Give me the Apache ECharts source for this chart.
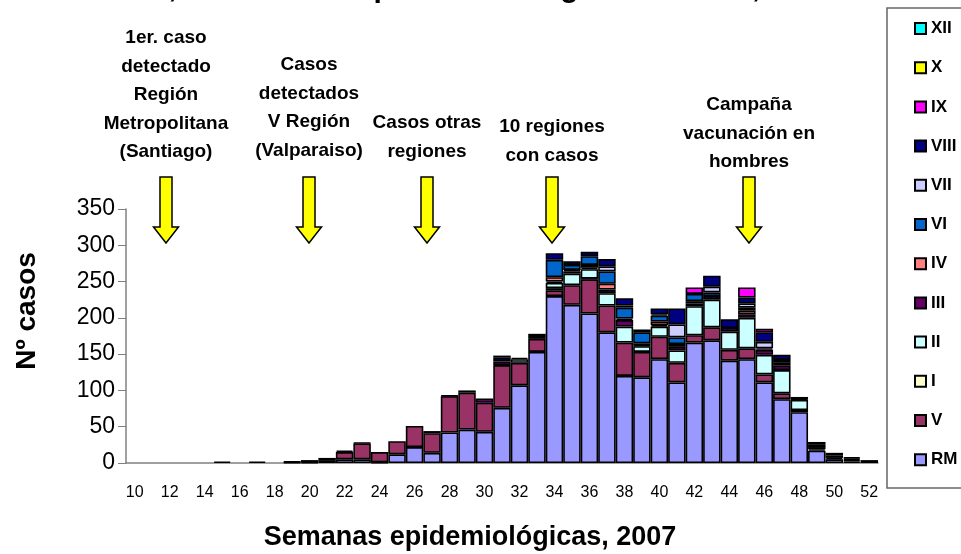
<html>
<head>
<meta http-equiv="Content-Type" content="text/html; charset=UTF-8">
<title>Parotiditis 2007</title>
<script type="text/javascript" src="https://cdn.jsdelivr.net/npm/echarts/dist/echarts.min.js"></script>
<style>
	html, body { margin: 0; padding: 0; background: #ffffff; }
	#chart { width: 961px; height: 554px; }
</style>
</head>
<body>
	<div id="chart"></div>
	<script type="text/javascript">
		var fontName = 'Liberation Sans, Arial, sans-serif';

		// semanas epidemiológicas 10..52
		var weeks = ['10','11','12','13','14','15','16','17','18','19',
			'20','21','22','23','24','25','26','27','28','29',
			'30','31','32','33','34','35','36','37','38','39',
			'40','41','42','43','44','45','46','47','48','49',
			'50','51','52'];

		// casos por región (orden de apilado, de abajo hacia arriba)
		var casosRM = [0,0,0,0,0,2,0,2,0,1,
			1,4,5,5,1,12,22,14,42,46,
			43,76,107,153,230,218,206,180,120,118,
			143,111,166,169,141,143,111,88,70,17,
			5,2,4];
		var casosV = [0,0,0,0,0,0,0,0,0,1,
			3,3,10,22,14,18,29,27,50,51,
			40,59,31,18,8,27,47,37,46,35,
			31,27,10,18,15,15,11,8,3,2,
			2,2,0];
		var casosI = [0,0,0,0,0,0,0,0,0,0,
			0,0,0,0,0,0,0,0,0,0,
			0,0,0,0,3,0,1,0,0,0,
			0,0,0,0,0,0,0,0,0,0,
			0,0,0];
		var casosII = [0,0,0,0,0,0,0,0,0,0,
			0,0,0,0,0,0,0,0,0,0,
			0,0,5,0,7,16,13,17,22,8,
			14,17,40,38,25,42,27,32,14,3,
			3,0,0];
		var casosIII = [0,0,0,0,0,0,0,0,0,0,
			0,0,2,1,0,0,0,3,1,3,
			6,5,2,4,2,3,2,5,9,1,
			2,5,4,5,5,5,7,6,1,3,
			0,2,0];
		var casosIV = [0,0,0,0,0,0,0,0,0,0,
			0,0,0,0,0,0,0,0,0,0,
			0,0,0,0,6,2,4,8,2,3,
			5,4,3,0,0,5,2,4,0,0,
			0,0,0];
		var casosVI = [0,0,0,0,0,0,0,0,0,0,
			0,0,0,0,0,0,0,0,0,0,
			0,0,0,0,24,7,12,17,15,15,
			8,9,10,5,0,4,0,0,0,0,
			0,0,0];
		var casosVII = [0,0,0,0,0,0,0,0,0,0,
			0,0,0,0,0,0,0,0,0,0,
			0,0,0,0,0,0,0,7,3,0,
			2,18,0,8,0,6,9,4,0,0,
			0,0,0];
		var casosVIII = [0,0,0,0,0,0,0,0,0,0,
			0,0,0,0,0,0,0,0,0,0,
			0,5,0,3,9,5,6,10,10,4,
			8,22,0,15,12,8,13,7,3,4,
			4,2,0];
		var casosIX = [0,0,0,0,0,0,0,0,0,0,
			0,0,0,0,0,0,0,0,0,0,
			0,3,0,0,0,0,0,0,0,0,
			0,0,9,0,0,14,5,0,0,0,
			0,0,0];
		var casosX = [0,0,0,0,0,0,0,0,0,0,
			0,0,0,0,0,0,0,0,0,0,
			0,0,0,0,0,0,0,0,0,0,
			0,0,0,0,0,0,0,0,0,0,
			0,0,0];
		var casosXII = [0,0,0,0,0,0,0,0,0,0,
			0,0,0,0,0,0,0,0,0,0,
			0,0,0,0,0,0,0,0,0,0,
			0,0,0,0,0,0,0,0,0,0,
			0,0,0];

		var yTicks = [0, 50, 100, 150, 200, 250, 300, 350];

		var regiones = [
			{name: 'RM',   data: casosRM,   color: '#9999FF'},
			{name: 'V',    data: casosV,    color: '#993366'},
			{name: 'I',    data: casosI,    color: '#FFFFCC'},
			{name: 'II',   data: casosII,   color: '#CCFFFF'},
			{name: 'III',  data: casosIII,  color: '#660066'},
			{name: 'IV',   data: casosIV,   color: '#FF8080'},
			{name: 'VI',   data: casosVI,   color: '#0066CC'},
			{name: 'VII',  data: casosVII,  color: '#CCCCFF'},
			{name: 'VIII', data: casosVIII, color: '#000080'},
			{name: 'IX',   data: casosIX,   color: '#FF00FF'},
			{name: 'X',    data: casosX,    color: '#FFFF00'},
			{name: 'XII',  data: casosXII,  color: '#00FFFF'}
		];

		// textos de eventos sobre el gráfico
		var eventos = [
			{x: 166, top: 24,  text: '1er. caso\ndetectado\nRegión\nMetropolitana\n(Santiago)'},
			{x: 309, top: 51,  text: 'Casos\ndetectados\nV Región\n(Valparaiso)'},
			{x: 427, top: 109, text: 'Casos otras\nregiones'},
			{x: 552, top: 113, text: '10 regiones\ncon casos'},
			{x: 749, top: 91,  text: 'Campaña\nvacunación en\nhombres'}
		];

		function arrowShape(cx){
			var top = 177, neck = 227, tip = 243;
			return [[cx - 6, top], [cx + 6, top], [cx + 6, neck], [cx + 12.5, neck],
				[cx, tip], [cx - 12.5, neck], [cx - 6, neck]];
		}

		function buildGraphic(){
			var items = [];
			// titulo (queda cortado en el borde superior)
			items.push({
				type: 'text', x: 20, y: 4, silent: true,
				style: {text: 'Chile 2007, los casos de parotiditis según semanas, total',
					font: 'bold 30px ' + fontName, fill: '#000', verticalAlign: 'bottom'}
			});
			for(var i = 0;i < eventos.length;i++){
				items.push({
					type: 'text', x: eventos[i].x, y: eventos[i].top, silent: true,
					style: {text: eventos[i].text, font: 'bold 19px ' + fontName,
						fill: '#000', align: 'center', verticalAlign: 'top', lineHeight: 28.5}
				});
				items.push({
					type: 'polygon', silent: true,
					shape: {points: arrowShape(eventos[i].x)},
					style: {fill: '#FFFF00', stroke: '#000', lineWidth: 1.5}
				});
			}
			// nombres de ejes
			items.push({
				type: 'text', x: 27, y: 311, rotation: Math.PI / 2, silent: true,
				style: {text: 'Nº casos', font: 'bold 28px ' + fontName, fill: '#000',
					align: 'center', verticalAlign: 'middle'}
			});
			items.push({
				type: 'text', x: 470, y: 538, silent: true,
				style: {text: 'Semanas epidemiológicas, 2007', font: 'bold 27px ' + fontName,
					fill: '#000', align: 'center', verticalAlign: 'middle'}
			});
			// marco de la leyenda
			items.push({
				type: 'rect', silent: true, z: -1,
				shape: {x: 887, y: 8, width: 100, height: 480},
				style: {fill: '#fff', stroke: '#666', lineWidth: 1.5}
			});
			return items;
		}

		function drawChart(){
			var myChart = echarts.init(document.getElementById('chart'));
			var series = [];
			var legendData = [];
			for(var i = 0;i < regiones.length;i++){
				series.push({
					name: regiones[i].name,
					type: 'bar',
					stack: 'casos',
					barCategoryGap: '0%',
					itemStyle: {color: regiones[i].color, borderColor: '#000', borderWidth: 1.6},
					emphasis: {disabled: true},
					data: regiones[i].data.map(function(v){ return v === 0 ? '-' : v; })
				});
				legendData.unshift(regiones[i].name);
			}

			var option = {
				animation: false,
				backgroundColor: '#ffffff',
				grid: {left: 126, right: 83, top: 209, bottom: 91},
				legend: {
					data: legendData,
					orient: 'vertical',
					left: 909, top: 15,
					itemWidth: 11, itemHeight: 11,
					itemGap: 22.2,
					icon: 'rect',
					selectedMode: false,
					textStyle: {fontFamily: fontName, fontWeight: 'bold', fontSize: 17,
						lineHeight: 16, color: '#000'}
				},
				xAxis: {
					type: 'category',
					data: weeks,
					axisLine: {lineStyle: {color: '#808080', width: 1.5}},
					axisTick: {interval: 0, length: 7, lineStyle: {color: '#404040'}},
					axisLabel: {interval: 1, fontFamily: fontName, fontSize: 16, color: '#000', margin: 22}
				},
				yAxis: {
					type: 'value',
					min: yTicks[0],
					max: yTicks[yTicks.length - 1],
					interval: yTicks[1] - yTicks[0],
					axisLine: {show: true, lineStyle: {color: '#808080', width: 1.5}},
					axisTick: {show: true, length: 8, lineStyle: {color: '#808080'}},
					axisLabel: {fontFamily: fontName, fontSize: 23, color: '#000', margin: 11},
					splitLine: {show: false}
				},
				graphic: buildGraphic(),
				series: series
			};
			myChart.setOption(option);
		}

		drawChart();
	</script>
</body>
</html>
